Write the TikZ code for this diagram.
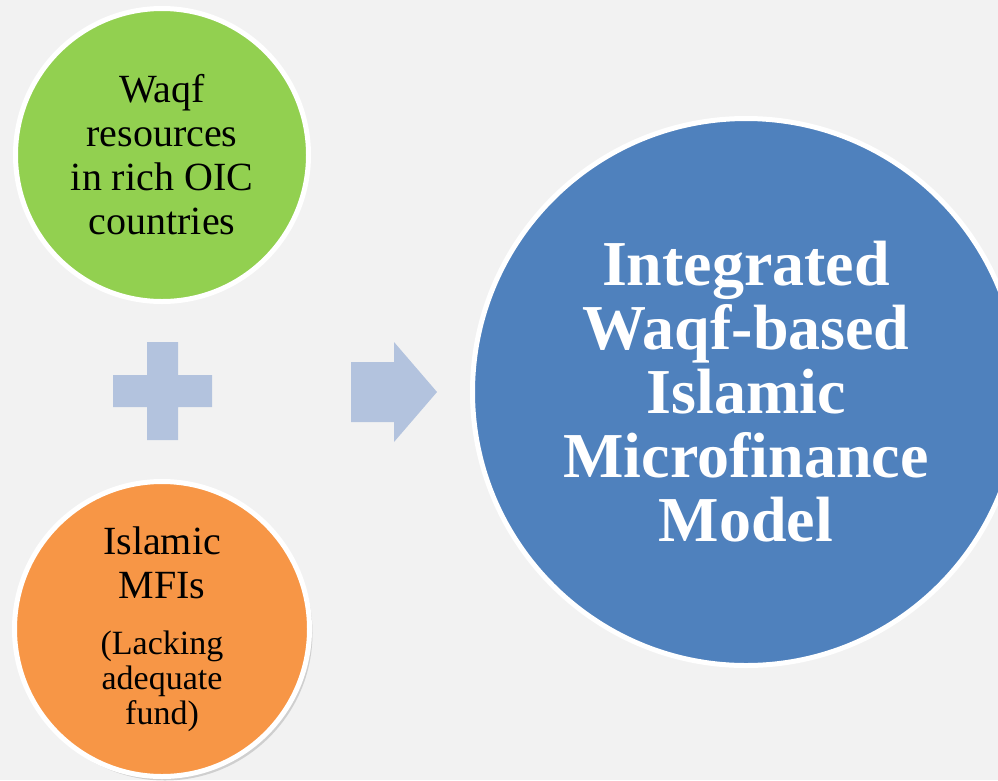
\documentclass[tikz,border=0pt]{standalone}
\usepackage{fontspec}
\setmainfont{Liberation Serif}
\usetikzlibrary{shadows}
\definecolor{slide}{HTML}{F2F2F2}
\definecolor{waqfgreen}{HTML}{92D050}
\definecolor{mfiorange}{HTML}{F79646}
\definecolor{modelblue}{HTML}{4F81BD}
\definecolor{signblue}{HTML}{B3C3DE}
\tikzstyle{bubble}=[circle, draw=white, line width=5pt, inner sep=0pt, align=center]
\tikzstyle{sign}=[fill=signblue, draw=none]
\newcommand{\bubbletext}{\fontsize{40}{44}\selectfont}
\newcommand{\notetext}{\fontsize{34}{35}\selectfont}

\begin{document}
\begin{tikzpicture}[x=1pt,y=-1pt]
            \useasboundingbox (0,0) rectangle (998,780);
            \fill[slide] (0,0) rectangle (998,780);
            \clip (0,0) rectangle (998,780);
            \node[bubble, fill=waqfgreen, minimum size=293pt, font=\bubbletext] (waqf) at (162,155)
                {Waqf\\resources\\in rich OIC\\countries};
            \node[bubble, fill=mfiorange, minimum size=295pt, font=\bubbletext,
                drop shadow={shadow xshift=3pt, shadow yshift=-4pt, opacity=0.3}] (mfi) at (162,629)
                {Islamic\\MFIs\\[12pt]\notetext (Lacking\\[-9pt] \notetext adequate\\[-9pt] \notetext fund)};
            \node[bubble, fill=modelblue, minimum size=547pt, text=white,
                font=\bfseries\fontsize{64}{64}\selectfont] (model) at (746,392)
                {Integrated\\Waqf-based\\Islamic\\Microfinance\\Model};
            % plus sign and arrow
            \fill[sign] (147,342) -- (178,342) -- (178,375) -- (212,375) -- (212,407) -- (178,407)
                -- (178,440) -- (147,440) -- (147,407) -- (113,407) -- (113,375) -- (147,375) -- cycle;
            \fill[sign] (351,362) -- (394,362) -- (394,342) -- (437,392) -- (394,442) -- (394,422)
                -- (351,422) -- cycle;
        \end{tikzpicture}
\end{document}
